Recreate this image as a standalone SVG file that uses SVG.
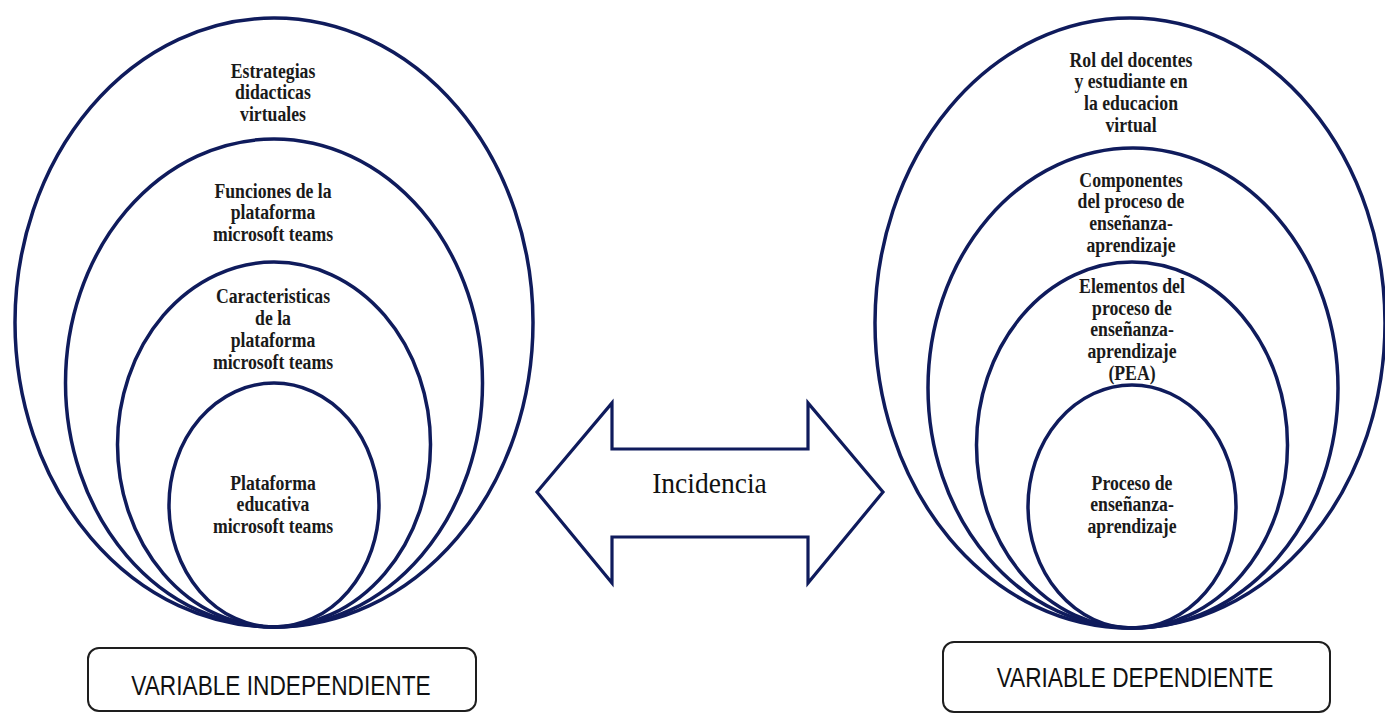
<svg xmlns="http://www.w3.org/2000/svg" width="1385" height="715" viewBox="0 0 1385 715">
<style>
.ring{fill:none;stroke:#0f1b5c;stroke-width:3.5}
.lbl{font-family:"Liberation Serif","Times New Roman",serif;font-weight:bold;font-size:22px;fill:#1a1a1a;text-anchor:middle}
.box{fill:#fff;stroke:#1e1e1e;stroke-width:2}
.var{font-family:"Liberation Sans",Arial,sans-serif;font-size:28px;fill:#111;text-anchor:middle}
.inc{font-family:"Liberation Serif","Times New Roman",serif;font-size:29px;fill:#111;text-anchor:middle}
</style>
<rect width="1385" height="715" fill="#fff"/>

<g id="left-outer">
<ellipse class="ring" cx="274" cy="322.5" rx="259" ry="304.5"/>
<g transform="translate(273 0) scale(0.805 1)"><text class="lbl"><tspan x="0" y="78">Estrategias</tspan><tspan x="0" y="99.5">didacticas</tspan><tspan x="0" y="121">virtuales</tspan></text></g>
</g>
<g id="left-second">
<ellipse class="ring" cx="274" cy="383" rx="208.5" ry="244"/>
<g transform="translate(273 0) scale(0.805 1)"><text class="lbl"><tspan x="0" y="198">Funciones de la</tspan><tspan x="0" y="219.5">plataforma</tspan><tspan x="0" y="241">microsoft teams</tspan></text></g>
</g>
<g id="left-third">
<ellipse class="ring" cx="274" cy="444.5" rx="156.5" ry="182.5"/>
<g transform="translate(273 0) scale(0.805 1)"><text class="lbl"><tspan x="0" y="303">Caracteristicas</tspan><tspan x="0" y="325">de la</tspan><tspan x="0" y="347">plataforma</tspan><tspan x="0" y="369">microsoft teams</tspan></text></g>
</g>
<g id="left-inner">
<ellipse class="ring" cx="274" cy="505" rx="105" ry="122"/>
<g transform="translate(273 0) scale(0.805 1)"><text class="lbl"><tspan x="0" y="490">Plataforma</tspan><tspan x="0" y="511.5">educativa</tspan><tspan x="0" y="533">microsoft teams</tspan></text></g>
</g>

<g id="right-outer">
<ellipse class="ring" cx="1130" cy="323" rx="255" ry="305"/>
<g transform="translate(1131 0) scale(0.805 1)"><text class="lbl"><tspan x="0" y="67">Rol del docentes</tspan><tspan x="0" y="88.5">y estudiante en</tspan><tspan x="0" y="110.5">la educacion</tspan><tspan x="0" y="132">virtual</tspan></text></g>
</g>
<g id="right-second">
<ellipse class="ring" cx="1133" cy="388" rx="205" ry="240"/>
<g transform="translate(1131 0) scale(0.805 1)"><text class="lbl"><tspan x="0" y="187">Componentes</tspan><tspan x="0" y="208.5">del proceso de</tspan><tspan x="0" y="230">enseñanza-</tspan><tspan x="0" y="252">aprendizaje</tspan></text></g>
</g>
<g id="right-third">
<ellipse class="ring" cx="1132" cy="445" rx="155.5" ry="183"/>
<g transform="translate(1132 0) scale(0.805 1)"><text class="lbl"><tspan x="0" y="293">Elementos del</tspan><tspan x="0" y="315">proceso de</tspan><tspan x="0" y="336.5">enseñanza-</tspan><tspan x="0" y="358">aprendizaje</tspan><tspan x="0" y="380">(PEA)</tspan></text></g>
</g>
<g id="right-inner">
<ellipse class="ring" cx="1132" cy="506.5" rx="104" ry="121.5"/>
<g transform="translate(1132 0) scale(0.805 1)"><text class="lbl"><tspan x="0" y="490">Proceso de</tspan><tspan x="0" y="511.5">enseñanza-</tspan><tspan x="0" y="533">aprendizaje</tspan></text></g>
</g>

<g id="connectors">
<polygon points="537,492 612,403 612,449 808,449 808,403 883,492 808,583 808,537 612,537 612,583" fill="#fff" stroke="#0f1b5c" stroke-width="3.2" stroke-linejoin="miter"/>
<g transform="translate(709.5 0) scale(0.95 1)"><text class="inc" x="0" y="493">Incidencia</text></g>
</g>

<g id="var-independiente">
<rect class="box" x="88" y="648" width="388" height="63" rx="11"/>
<g transform="translate(281 0) scale(0.81 1)"><text class="var" x="0" y="695">VARIABLE INDEPENDIENTE</text></g>
</g>
<g id="var-dependiente">
<rect class="box" x="943" y="642" width="387" height="70" rx="11"/>
<g transform="translate(1135 0) scale(0.81 1)"><text class="var" x="0" y="687">VARIABLE DEPENDIENTE</text></g>
</g>
</svg>
